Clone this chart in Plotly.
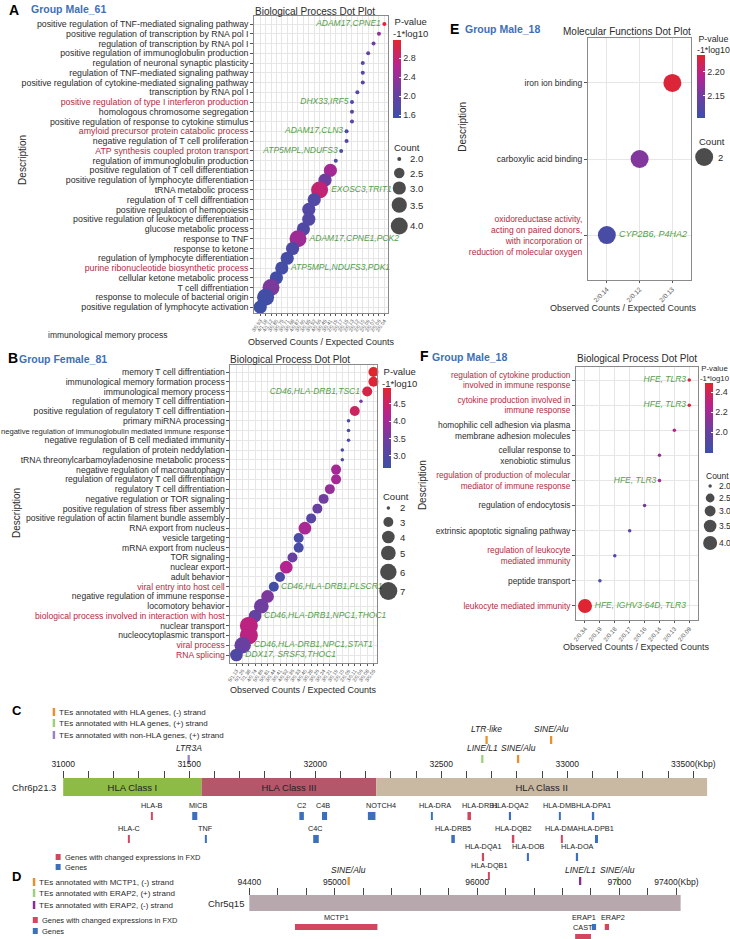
import math
import plotly.graph_objects as go

W, H = 730, 939
FONT = "Liberation Sans, Arial, sans-serif"
DARK = "#2b2b2b"
REDTXT = "#b8283e"
GREEN = "#55a04a"
BLUET = "#3d70b5"
CS = [[0.0, "#3d50a6"], [0.33, "#6b3fa0"], [0.66, "#b52390"], [1.0, "#e2252e"]]

# ---------------- Panel A (Group Male_61) ----------------
A_terms = [
    "positive regulation of TNF-mediated signaling pathway",
    "positive regulation of transcription by RNA pol I",
    "regulation of transcription by RNA pol I",
    "positive regulation of immunoglobulin production",
    "regulation of neuronal synaptic plasticity",
    "regulation of TNF-mediated signaling pathway",
    "positive regulation of cytokine-mediated signaling pathway",
    "transcription by RNA pol I",
    "positive regulation of type I interferon production",
    "homologous chromosome segregation",
    "positive regulation of response to cytokine stimulus",
    "amyloid precursor protein catabolic process",
    "negative regulation of T cell proliferation",
    "ATP synthesis coupled proton transport",
    "regulation of immunoglobulin production",
    "positive regulation of T cell differentiation",
    "positive regulation of lymphocyte differentiation",
    "tRNA metabolic process",
    "regulation of T cell diffrentiation",
    "positive regulation of hemopoiesis",
    "positive regulation of leukocyte differentiation",
    "glucose metabolic process",
    "response to TNF",
    "response to ketone",
    "regulation of lymphocyte differentiation",
    "purine ribonucleotide biosynthetic process",
    "cellular ketone metabolic process",
    "T cell diffrentiation",
    "response to molecule of bacterial origin",
    "positive regulation of lymphocyte activation",
]
A_highlight = ["positive regulation of type I interferon production",
               "amyloid precursor protein catabolic process",
               "ATP synthesis coupled proton transport",
               "purine ribonucleotide biosynthetic process"]
A_ratio = ["2/0.04", "2/0.06", "2/0.07", "2/0.09", "2/0.10", "2/0.10", "2/0.10", "2/0.12",
           "2/0.13", "2/0.13", "2/0.13", "2/0.15", "2/0.15", "2/0.17", "2/0.19", "3/0.41",
           "3/0.45", "4/0.66", "3/0.52", "3/0.55", "3/0.55", "3/0.60", "4/0.87", "3/0.68",
           "3/0.71", "3/0.75", "3/0.80", "4/1.12", "4/1.18", "3/0.93"]
A_pval = [3.15, 2.35, 2.1, 2.0, 1.9, 1.9, 1.9, 1.85, 1.8, 1.8, 1.8, 1.75, 1.75, 1.75, 1.7,
          2.5, 2.1, 2.8, 1.8, 1.8, 1.8, 1.75, 2.45, 1.7, 1.65, 1.65, 1.6, 2.2, 1.6, 1.55]
A_count = [2, 2, 2, 2, 2, 2, 2, 2, 2, 2, 2, 2, 2, 2, 2,
           3, 3, 4, 3, 3, 3, 3, 4, 3, 3, 3, 3, 4, 4, 3]
A_genes = ["ADAM17,CPNE1", "", "", "", "", "", "", "", "DHX33,IRF5", "", "", "ADAM17,CLN3", "",
           "ATP5MPL,NDUFS3", "", "", "", "EXOSC3,TRIT1", "", "", "", "", "ADAM17,CPNE1,PCK2",
           "", "", "ATP5MPL,NDUFS3,PDK1", "", "", "", ""]
A_side = ["L"] * 17 + ["R"] * 13
A_legend_counts = [2.0, 2.5, 3.0, 3.5, 4.0]
A_cticks = [1.6, 2.0, 2.4, 2.8]

# ---------------- Panel B (Group Female_81) ----------------
B_terms = [
    "memory T cell diffrentiation",
    "immunological memory formation process",
    "immunological memory process",
    "regulation of memory T cell diffrentiation",
    "positive regulation of regulatory T cell diffrentiation",
    "primary miRNA processing",
    "negative regulation of immunoglobulin mediated immune response",
    "negative regulation of B cell mediated immunity",
    "regulation of protein neddylation",
    "tRNA threonylcarbamoyladenosine metabolic process",
    "negative regulation of macroautophagy",
    "regulation of regulatory T cell diffrentiation",
    "regulatory T cell diffrentiation",
    "negative regulation or TOR signaling",
    "positive regulation of stress fiber assembly",
    "positive regulation of actin filament bundle assembly",
    "RNA export from nucleus",
    "vesicle targeting",
    "mRNA export from nucleus",
    "TOR signaling",
    "nuclear export",
    "adult behavior",
    "viral entry into host cell",
    "negative regulation of immune response",
    "locomotory behavior",
    "biological process involved in interaction with host",
    "nuclear transport",
    "nucleocytoplasmic transport",
    "viral process",
    "RNA splicing",
]
B_highlight = ["viral entry into host cell", "biological process involved in interaction with host",
               "viral process", "RNA splicing"]
B_small = ["negative regulation of immunoglobulin mediated immune response"]
B_ratio = ["3/0.05", "3/0.05", "3/0.08", "2/0.06", "3/0.11", "2/0.09", "2/0.09", "2/0.09",
           "2/0.10", "2/0.10", "3/0.19", "3/0.19", "3/0.21", "3/0.24", "3/0.26", "3/0.28",
           "4/0.40", "3/0.33", "3/0.33", "3/0.36", "4/0.52", "3/0.41", "3/0.44", "5/0.81",
           "5/0.86", "4/0.74", "7/1.38", "7/1.38", "6/1.26", "5/1.13"]
B_pval = [4.95, 4.9, 4.75, 3.5, 4.55, 2.9, 2.9, 2.9, 2.85, 2.85, 4.0, 4.0, 3.85, 3.45, 3.35,
          3.1, 4.05, 2.85, 2.85, 3.35, 4.15, 2.9, 2.75, 3.6, 3.45, 3.3, 4.3, 4.3, 3.35, 2.95]
B_count = [3, 3, 3, 2, 3, 2, 2, 2, 2, 2, 3, 3, 3, 3, 3, 3, 4, 3, 3, 3, 4, 3, 3, 4, 5, 4,
           7, 7, 6, 4]
B_genes = ["", "", "CD46,HLA-DRB1,TSC1"] + [""] * 19 + ["CD46,HLA-DRB1,PLSCR1", "", "",
           "CD46,HLA-DRB1,NPC1,THOC1", "", "", "CD46,HLA-DRB1,NPC1,STAT1", "DDX17, SRSF3,THOC1"]
B_side = ["L"] * 5 + ["R"] * 25
B_legend_counts = [2, 3, 4, 5, 6, 7]
B_cticks = [3.0, 3.5, 4.0, 4.5]

# ---------------- Panel E (Group Male_18, MF) ----------------
E_terms = ["iron ion binding", "carboxylic acid binding",
           "oxidoreductase activity,\nacting on paired donors,\nwith incorporation or\nreduction of molecular oxygen"]
E_highlight = ["oxidoreductase activity, acting on paired donors, with incorporation or reduction of molecular oxygen"]
E_ratio = ["2/0.13", "2/0.12", "2/0.14"]
E_pval = [2.23, 2.16, 2.115]
E_count = [2, 2, 2]
E_genes = ["", "", "CYP2B6, P4HA2"]
E_side = ["R", "R", "R"]
E_legend_counts = [2]
E_cticks = [2.15, 2.20]

# ---------------- Panel F (Group Male_18, BP) ----------------
F_terms = [
    "regulation of cytokine production\ninvolved in immune response",
    "cytokine production involved in\nimmune response",
    "homophilic cell adhesion via plasma\nmembrane adhesion molecules",
    "cellular response to\nxenobiotic stimulus",
    "regulation of production of molecular\nmediator of immune response",
    "regulation of endocytosis",
    "extrinsic apoptotic signaling pathway",
    "regulation of leukocyte\nmediated immunity",
    "peptide transport",
    "leukocyte mediated immunity",
]
F_highlight = ["regulation of cytokine production involved in immune response",
               "cytokine production involved in immune response",
               "regulation of production of molecular mediator of immune response",
               "regulation of leukocyte mediated immunity",
               "leukocyte mediated immunity"]
F_ratio = ["2/0.09", "2/0.09", "2/0.13", "2/0.14", "2/0.14", "2/0.16", "2/0.17", "2/0.18",
           "2/0.19", "2/0.34"]
F_pval = [2.45, 2.45, 2.25, 2.15, 2.2, 2.05, 1.95, 1.9, 1.85, 2.48]
F_count = [2, 2, 2, 2, 2, 2, 2, 2, 2, 4]
F_genes = ["HFE, TLR3", "HFE, TLR3", "", "", "HFE, TLR3", "", "", "", "", "HFE, IGHV3-64D, TLR3"]
F_side = ["L"] * 9 + ["R"]
F_legend_counts = [2.0, 2.5, 3.0, 3.5, 4.0]
F_cticks = [2.0, 2.2, 2.4]

# ---------------- Panel C (Chr6p21.3) ----------------
C_region_names = ["HLA Class I", "HLA Class III", "HLA Class II"]
C_region_start = [31000, 31549, 32242]
C_region_end = [31549, 32242, 33555]
C_region_colors = ["#8dbb45", "#b5576b", "#c9b8a2"]
C_genes = ["HLA-B", "HLA-C", "MICB", "TNF", "C2", "C4B", "C4C", "NOTCH4", "HLA-DRA", "HLA-DRB1",
           "HLA-DRB5", "HLA-DQA2", "HLA-DQB2", "HLA-DQA1", "HLA-DOB", "HLA-DQB1", "HLA-DMB",
           "HLA-DPA1", "HLA-DMA", "HLA-DPB1", "HLA-DOA"]
C_gene_pos = [31352, 31261, 31522, 31566, 31946, 32037, 32003, 32224, 32463, 32611, 32547,
              32774, 32787, 32667, 32845, 32690, 32970, 33104, 32979, 33116, 33040]
C_gene_len = [6, 6, 20, 6, 18, 20, 22, 30, 6, 14, 14, 6, 6, 6, 6, 6, 6, 6, 6, 12, 6]
C_gene_changed = [1, 1, 0, 0, 0, 0, 0, 0, 0, 1, 0, 0, 1, 1, 0, 1, 0, 0, 1, 0, 0]
C_gene_row = [1, 2, 1, 2, 1, 1, 2, 1, 1, 1, 2, 1, 2, 3, 3, 4, 1, 1, 2, 2, 3]
C_te_names = ["LTR3A", "LTR-like", "SINE/Alu", "LINE/L1", "SINE/Alu"]
C_te_pos = [31498, 32680, 32936, 32663, 32805]
C_te_type = ["nonHLA+", "HLA-", "HLA-", "HLA+", "HLA-"]
C_te_row = [2, 1, 1, 2, 2]
C_ticks = list(range(31000, 33501, 100))
C_tick_labels = ["31000", "31500", "32000", "32500", "33000", "33500(Kbp)"]

# ---------------- Panel D (Chr5q15) ----------------
D_region = [94400, 97430]
D_genes = ["MCTP1", "ERAP1", "ERAP2", "CAST"]
D_gene_start = [94721, 96806, 96897, 96689]
D_gene_end = [95300, 96836, 96927, 96800]
D_gene_changed = [1, 0, 1, 1]
D_gene_row = [1, 1, 1, 2]
D_te_names = ["SINE/Alu", "LINE/L1", "SINE/Alu"]
D_te_pos = [95098, 96724, 96989]
D_te_type = ["MCTP1-", "ERAP2-", "ERAP2+"]
D_ticks = list(range(94400, 97401, 200))
D_tick_labels = ["94400", "95000", "96000", "97000", "97400(Kbp)"]

# ---------------- helpers ----------------
def fx(px):
    return px / W


def fy(py):
    return 1 - py / H


def sizer(cmin, cmax, dmin, dmax):
    def f(c):
        if cmax == cmin:
            return dmax
        return dmin + (dmax - dmin) * math.sqrt((c - cmin) / (cmax - cmin))
    return f


def note(text, px, py, size=9, color=DARK, xa="left", ya="middle", angle=0, **kw):
    d = dict(text=text, x=fx(px), y=fy(py), xref="paper", yref="paper", xanchor=xa,
             yanchor=ya, showarrow=False, textangle=angle,
             font=dict(size=size, color=color, family=FONT))
    d.update(kw)
    return d


fig = go.Figure()
annotations = []
shapes = []
layout = {}


def dot_panel(n, terms, ratio, pval, count, genes, side, highlight, cax, szf,
              xdom, ydom, ylab_size, xtick_size, xtick_angle, gene_size, small=()):
    names = [t.replace("\n", " ") for t in terms]
    xorder = []
    for r in reversed(ratio):
        if r not in xorder:
            xorder.append(r)
    ttext = []
    for t, nm in zip(terms, names):
        s = t.replace("\n", "<br>")
        col = REDTXT if nm in highlight else DARK
        if nm in small:
            s = '<span style="font-size:7.6px;color:' + col + '">' + s + "</span>"
        elif nm in highlight:
            s = '<span style="color:' + col + '">' + s + "</span>"
        ttext.append(s)
    pos = ["middle left" if sd == "L" else "middle right" for sd in side]
    xs = "x" if n == 1 else "x%d" % n
    ys = "y" if n == 1 else "y%d" % n
    fig.add_trace(go.Scatter(
        x=ratio, y=names, mode="markers+text",
        text=["<i>" + g + "</i>" if g else "" for g in genes], textposition=pos,
        textfont=dict(color=GREEN, size=gene_size, family=FONT),
        marker=dict(size=[szf(c) for c in count], color=pval, coloraxis=cax,
                    line=dict(width=0), opacity=1),
        xaxis=xs, yaxis=ys, cliponaxis=False, showlegend=False, hoverinfo="skip"))
    xr = xdom[2]
    yr = ydom[2]
    key = "" if n == 1 else str(n)
    layout["xaxis" + key] = dict(
        type="category", categoryorder="array", categoryarray=xorder,
        tickmode="array", tickvals=xorder, ticktext=xorder,
        range=xr, domain=[fx(xdom[0]), fx(xdom[1])], anchor=ys,
        tickangle=xtick_angle, tickfont=dict(size=xtick_size, color="#555", family=FONT),
        ticks="outside", ticklen=2, tickcolor="#555",
        showgrid=True, gridcolor="#e6e6e6", gridwidth=0.6,
        showline=True, mirror=True, linecolor="#8a8a8a", linewidth=1, zeroline=False)
    layout["yaxis" + key] = dict(
        type="category", categoryorder="array", categoryarray=list(reversed(names)),
        tickmode="array", tickvals=names, ticktext=ttext,
        range=yr, domain=[fy(ydom[1]), fy(ydom[0])], anchor=xs,
        tickfont=dict(size=ylab_size, color=DARK, family=FONT),
        ticks="outside", ticklen=3, tickcolor="#555",
        showgrid=True, gridcolor="#e6e6e6", gridwidth=0.6,
        showline=True, mirror=True, linecolor="#8a8a8a", linewidth=1, zeroline=False)


def cbar(vmin, vmax, ticks, px, ptop, plen, fmt):
    return dict(colorscale=CS, cmin=vmin, cmax=vmax, colorbar=dict(
        x=fx(px), xanchor="left", y=fy(ptop), yanchor="top", len=plen, lenmode="pixels",
        thickness=8, thicknessmode="pixels", xpad=0, ypad=0, outlinewidth=0,
        tickvals=ticks, ticktext=[fmt.format(t) for t in ticks],
        tickfont=dict(size=9, color="#333", family=FONT),
        ticks="inside", ticklen=2, tickcolor="white"))


# size scales
szA = sizer(2, 4, 4, 17)
szB = sizer(2, 7, 3.5, 18)
szE = sizer(2, 2, 18, 18)
szF = sizer(2, 4, 3.5, 14)

dot_panel(1, A_terms, A_ratio, A_pval, A_count, A_genes, A_side, A_highlight, "coloraxis", szA,
          (252, 387, [-1.1, 23.74]), (16, 313, [-0.61, 29.82]), 8.8, 5, -55, 8.5)
dot_panel(2, B_terms, B_ratio, B_pval, B_count, B_genes, B_side, B_highlight, "coloraxis2", szB,
          (228, 376, [-0.96, 22.64]), (365, 663, [-0.82, 29.72]), 8.6, 5, -55, 8.5, small=B_small)
dot_panel(3, E_terms, E_ratio, E_pval, E_count, E_genes, E_side,
          E_highlight, "coloraxis3", szE,
          (588, 692, [-0.576, 2.576]), (38, 280, [-0.59, 2.59]), 8.5, 6.5, -45, 9)
dot_panel(4, F_terms, F_ratio, F_pval, F_count, F_genes, F_side, F_highlight, "coloraxis4", szF,
          (576, 699, [-0.6, 7.6]), (367, 620, [-0.56, 9.52]), 8.3, 6, -50, 8.5)

layout["coloraxis"] = cbar(1.54, 3.18, A_cticks, 392, 40, 78, "{:.1f}")
layout["coloraxis2"] = cbar(2.65, 4.96, B_cticks, 382, 388, 80, "{:.1f}")
layout["coloraxis3"] = cbar(2.104, 2.235, E_cticks, 698, 55, 63, "{:.2f}")
layout["coloraxis4"] = cbar(1.79, 2.49, F_cticks, 706, 383, 70, "{:.1f}")

# overlay pixel axis for legend keys
layout["xaxis7"] = dict(domain=[0, 1], range=[0, W], visible=False, anchor="y7", fixedrange=True)
layout["yaxis7"] = dict(domain=[0, 1], range=[H, 0], visible=False, anchor="x7", fixedrange=True)

legend_specs = [
    (A_legend_counts, szA, 398, 407, [159, 173, 188, 205, 226], (391, 148), "{:.1f}", 9.5),
    (B_legend_counts, szB, 387, 397, [508, 522, 537, 553, 572, 591], (380, 497), "{}", 9.5),
    (E_legend_counts, szE, 705, 717, [157], (698, 141), "{}", 9.5),
    (F_legend_counts, szF, 711, 718, [486, 498, 511, 526, 543], (705, 476), "{:.1f}", 8.5),
]
for counts, szf, kx, tx, ys_, (cx, cy), fmt, fs in legend_specs:
    fig.add_trace(go.Scatter(
        x=[kx] * len(counts), y=ys_, mode="markers",
        marker=dict(size=[szf(c) for c in counts], color="black", line=dict(width=0)),
        xaxis="x7", yaxis="y7", showlegend=False, hoverinfo="skip", cliponaxis=False))
    annotations.append(note("Count", cx, cy, size=fs))
    for c, yy in zip(counts, ys_):
        annotations.append(note(fmt.format(c), tx, yy, size=fs))

# colorbar titles
for (px, py, fs) in [(391, 28, 9.5), (380, 377, 9.5), (697, 45, 8.8), (700, 374, 7.8)]:
    annotations.append(note("P-value<br>-1*log10", px, py, size=fs, borderpad=0))

# panel titles / labels
annotations += [
    note("<b>A</b>", 3, 10, size=14, color="black"),
    note("<b>Group Male_61</b>", 25, 9, size=10.5, color=BLUET),
    note("Biological Process Dot Plot", 313, 11, size=10, xa="center"),
    note("Observed Counts / Expected Counts", 320, 342, size=9, xa="center"),
    note("Description", 18, 160, size=10, xa="center", angle=-90),
    note("immunological memory process", 42, 335, size=8.5),
    note("<b>B</b>", 2, 358, size=14, color="black"),
    note("<b>Group Female_81</b>", 13, 359, size=10.5, color=BLUET),
    note("Biological Process Dot Plot", 288, 359, size=10, xa="center"),
    note("Observed Counts / Expected Counts", 302, 690, size=9, xa="center"),
    note("Description", 12, 513, size=10, xa="center", angle=-90),
    note("<b>E</b>", 447, 29, size=14, color="black"),
    note("<b>Group Male_18</b>", 462, 29, size=10.5, color=BLUET),
    note("Molecular Functions Dot Plot", 627, 32, size=10, xa="center"),
    note("Observed Counts / Expected Counts", 624, 308, size=9, xa="center"),
    note("Description", 461, 127, size=10, xa="center", angle=-90),
    note("<b>F</b>", 417, 356, size=14, color="black"),
    note("<b>Group Male_18</b>", 429, 357, size=10.5, color=BLUET),
    note("Biological Process Dot Plot", 637, 358, size=10, xa="center"),
    note("Observed Counts / Expected Counts", 637, 647, size=9, xa="center"),
    note("Description", 421, 485, size=10, xa="center", angle=-90),
    note("<b>C</b>", 6, 710, size=13, color="black"),
    note("<b>D</b>", 6, 876, size=13, color="black"),
    note("Chr6p21.3", 54, 787, size=9.5, xa="right"),
    note("Chr5q15", 244, 903, size=9.5, xa="right"),
]

TE_COL = {"HLA-": "#e8912c", "HLA+": "#9fcf7d", "nonHLA+": "#9a80c6",
          "MCTP1-": "#e8912c", "ERAP2+": "#9fcf7d", "ERAP2-": "#8b2c8e"}
GENE_RED = "#d2465f"
GENE_BLUE = "#3c6fbe"

# C legends
for txt, typ, yy in [("TEs annotated with HLA genes, (-) strand", "HLA-", 712),
                     ("TEs annotated with HLA genes, (+) strand", "HLA+", 723),
                     ("TEs annotated with non-HLA genes, (+) strand", "nonHLA+", 735)]:
    shapes.append(dict(type="rect", xref="paper", yref="paper", x0=fx(49), x1=fx(51.5),
                       y0=fy(yy + 4), y1=fy(yy - 4), fillcolor=TE_COL[typ], line=dict(width=0)))
    annotations.append(note(txt, 53, yy, size=8))
for txt, col, yy in [("Genes with changed expressions in FXD", GENE_RED, 857), ("Genes", GENE_BLUE, 867)]:
    shapes.append(dict(type="rect", xref="paper", yref="paper", x0=fx(52), x1=fx(57),
                       y0=fy(yy + 3), y1=fy(yy - 3), fillcolor=col, line=dict(width=0)))
    annotations.append(note(txt, 59, yy, size=7.5))
# D legends
for txt, typ, yy in [("TEs annotated with MCTP1, (-) strand", "MCTP1-", 882),
                     ("TEs annotated with ERAP2, (+) strand", "ERAP2+", 893),
                     ("TEs annotated with ERAP2, (-) strand", "ERAP2-", 905)]:
    shapes.append(dict(type="rect", xref="paper", yref="paper", x0=fx(29), x1=fx(31.5),
                       y0=fy(yy + 4), y1=fy(yy - 4), fillcolor=TE_COL[typ], line=dict(width=0)))
    annotations.append(note(txt, 33, yy, size=8))
for txt, col, yy in [("Genes with changed expressions in FXD", GENE_RED, 920), ("Genes", GENE_BLUE, 931)]:
    shapes.append(dict(type="rect", xref="paper", yref="paper", x0=fx(29), x1=fx(34),
                       y0=fy(yy + 3), y1=fy(yy - 3), fillcolor=col, line=dict(width=0)))
    annotations.append(note(txt, 36, yy, size=7.5))

# ---------------- genome tracks ----------------
c_ppk = (694 - 59.6) / 2500.0
c_range = [31000 - (59.6 - 20) / c_ppk, 31000 + (715 - 59.6) / c_ppk]
layout["xaxis5"] = dict(domain=[fx(20), fx(715)], range=c_range, side="top", anchor="free",
                        position=fy(777.5), tickmode="array", tickvals=C_ticks,
                        ticktext=[(C_tick_labels[(t - 31000) // 500] if (t - 31000) % 500 == 0 else "")
                                  for t in C_ticks],
                        ticks="outside", ticklen=7, tickcolor="#444", tickwidth=1,
                        tickfont=dict(size=8.5, color="#222", family=FONT),
                        showgrid=False, zeroline=False, showline=False)
layout["yaxis5"] = dict(domain=[fy(890), fy(700)], range=[890, 700], visible=False,
                        anchor="free", position=0)
d_ppk = (677 - 247) / 3000.0
d_range = [94400 - (247 - 190) / d_ppk, 94400 + (715 - 247) / d_ppk]
d_lab = {94400: "94400", 95000: "95000", 96000: "96000", 97000: "97000", 97400: "97400(Kbp)"}
layout["xaxis6"] = dict(domain=[fx(190), fx(715)], range=d_range, side="top", anchor="free",
                        position=fy(895), tickmode="array", tickvals=D_ticks,
                        ticktext=[d_lab.get(t, "") for t in D_ticks],
                        ticks="outside", ticklen=7, tickcolor="#444", tickwidth=1,
                        tickfont=dict(size=8.5, color="#222", family=FONT),
                        showgrid=False, zeroline=False, showline=False)
layout["yaxis6"] = dict(domain=[0, fy(850)], range=[H, 850], visible=False,
                        anchor="free", position=0)

fig.add_trace(go.Bar(
    orientation="h", y=[787] * 3, base=C_region_start,
    x=[e - s for s, e in zip(C_region_start, C_region_end)], width=18,
    marker=dict(color=C_region_colors, line=dict(width=0)),
    text=C_region_names, textposition="inside", insidetextanchor="middle", textangle=0,
    textfont=dict(size=9.5, color="#222", family=FONT),
    xaxis="x5", yaxis="y5", showlegend=False, hoverinfo="skip"))
fig.add_trace(go.Bar(
    orientation="h", y=[903], base=[D_region[0]], x=[D_region[1] - D_region[0]], width=16,
    marker=dict(color="#b7a8ae", line=dict(width=0)),
    xaxis="x6", yaxis="y6", showlegend=False, hoverinfo="skip"))

C_row_top = {1: 812, 2: 835, 3: 853, 4: 872}
C_label_shift = {"MICB": 3, "NOTCH4": 9, "HLA-DRA": 3, "HLA-DRB1": 11, "C4B": -2}
fig.add_trace(go.Bar(
    x=C_gene_pos, y=[8] * len(C_gene_pos), base=[C_row_top[r] for r in C_gene_row],
    width=C_gene_len, marker=dict(color=[GENE_RED if c else GENE_BLUE for c in C_gene_changed],
                                  line=dict(width=0)),
    xaxis="x5", yaxis="y5", showlegend=False, hoverinfo="skip"))
for g, p, r in zip(C_genes, C_gene_pos, C_gene_row):
    annotations.append(dict(text=g, x=p, y=C_row_top[r] - 1, xref="x5", yref="y5",
                            xanchor="center", yanchor="bottom", showarrow=False,
                            xshift=C_label_shift.get(g, 0), borderpad=0,
                            font=dict(size=7.3, color="#222", family=FONT)))
C_te_top = {1: 736, 2: 755}
fig.add_trace(go.Bar(
    x=C_te_pos, y=[8] * len(C_te_pos), base=[C_te_top[r] for r in C_te_row],
    width=[9] * len(C_te_pos), marker=dict(color=[TE_COL[t] for t in C_te_type], line=dict(width=0)),
    xaxis="x5", yaxis="y5", showlegend=False, hoverinfo="skip"))
for nm, p, r in zip(C_te_names, C_te_pos, C_te_row):
    annotations.append(dict(text="<i>" + nm + "</i>", x=p, y=C_te_top[r] - 1, xref="x5", yref="y5",
                            xanchor="center", yanchor="bottom", showarrow=False, borderpad=0,
                            font=dict(size=8.5, color="#222", family=FONT)))

D_row_top = {1: 924, 2: 934}
fig.add_trace(go.Bar(
    x=[(s + e) / 2 for s, e in zip(D_gene_start, D_gene_end)], y=[6] * len(D_genes),
    base=[D_row_top[r] for r in D_gene_row],
    width=[e - s for s, e in zip(D_gene_start, D_gene_end)],
    marker=dict(color=[GENE_RED if c else GENE_BLUE for c in D_gene_changed], line=dict(width=0)),
    xaxis="x6", yaxis="y6", showlegend=False, hoverinfo="skip"))
D_label_shift = {"ERAP1": -10, "ERAP2": 6, "CAST": 0, "MCTP1": 0}
for g, s, e, r in zip(D_genes, D_gene_start, D_gene_end, D_gene_row):
    annotations.append(dict(text=g, x=(s + e) / 2, y=D_row_top[r] - 1, xref="x6", yref="y6",
                            xanchor="center", yanchor="bottom", showarrow=False, borderpad=0,
                            xshift=D_label_shift.get(g, 0),
                            font=dict(size=7.3, color="#222", family=FONT)))
fig.add_trace(go.Bar(
    x=D_te_pos, y=[8] * len(D_te_pos), base=[877] * len(D_te_pos), width=[16] * len(D_te_pos),
    marker=dict(color=[TE_COL[t] for t in D_te_type], line=dict(width=0)),
    xaxis="x6", yaxis="y6", showlegend=False, hoverinfo="skip"))
for nm, p in zip(D_te_names, D_te_pos):
    annotations.append(dict(text="<i>" + nm + "</i>", x=p, y=876, xref="x6", yref="y6",
                            xanchor="center", yanchor="bottom", showarrow=False, borderpad=0,
                            font=dict(size=8.5, color="#222", family=FONT)))

fig.update_layout(
    width=W, height=H, margin=dict(l=0, r=0, t=0, b=0),
    paper_bgcolor="white", plot_bgcolor="rgba(0,0,0,0)",
    font=dict(family=FONT, color=DARK), barmode="overlay", showlegend=False,
    annotations=annotations, shapes=shapes, **layout)

fig.write_html("out.html", post_script="document.body.style.margin='0';",
               config={"displayModeBar": False})
